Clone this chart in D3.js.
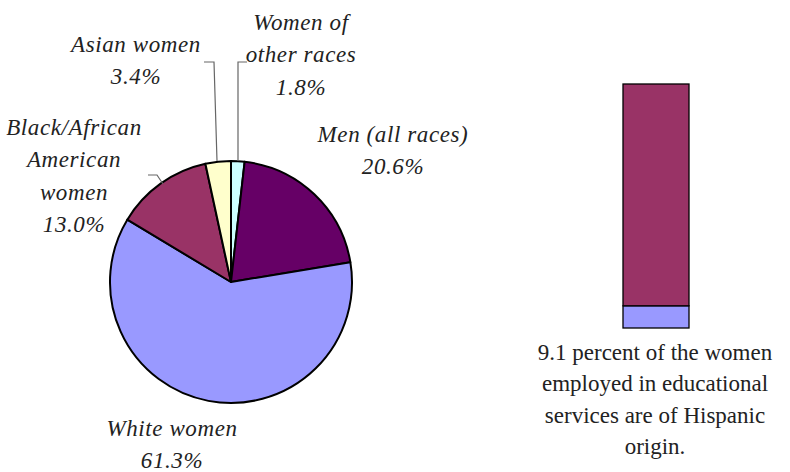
<!DOCTYPE html>
<html><head><meta charset="utf-8">
<script src="https://cdn.jsdelivr.net/npm/d3@7"></script>
</head><body style="margin:0">
<script>
// Data
const categories = ["Women of other races", "Men (all races)", "White women", "Black/African American women", "Asian women"];
const values = [1.8, 20.6, 61.3, 13.0, 3.4];
const colors = ["#CCFFFF", "#660066", "#9999FF", "#993366", "#FFFFCC"];
const labelLines = [["Women of", "other races", "1.8%"], ["Men (all races)", "20.6%"], ["White women", "61.3%"], ["Black/African", "American", "women", "13.0%"], ["Asian women", "3.4%"]];
const barCategories = ["Hispanic", "Not Hispanic"];
const barValues = [9.1, 90.9];
const barColors = ["#9999FF", "#993366"];
const noteLines = ["9.1 percent of the women", "employed in educational", "services are of Hispanic", "origin."];

const W = 790, H = 472;
const FONT = "Liberation Serif";
const svg = d3.select("body").append("svg").attr("width", W).attr("height", H).style("display", "block");

// Pie
const cx = 231, cy = 282, r = 121;
const pie = d3.pie().sort(null).value(d => d).startAngle(0).endAngle(2 * Math.PI);
const arcs = pie(values);
const arc = d3.arc().innerRadius(0).outerRadius(r);
const g = svg.append("g").attr("transform", `translate(${cx},${cy})`);
g.selectAll("path").data(arcs).join("path")
  .attr("d", arc).attr("fill", (d, i) => colors[i])
  .attr("stroke", "#000").attr("stroke-width", 2).attr("stroke-linejoin", "round");

function addText(s, x, y, italic, size, spacing) {
  svg.append("text").attr("x", x).attr("y", y).attr("text-anchor", "middle")
    .attr("font-family", FONT).attr("font-style", italic ? "italic" : "normal")
    .attr("font-size", size).attr("letter-spacing", spacing).attr("fill", "#222")
    .style("font-family", `"${FONT}"`).style("font-style", italic ? "italic" : "normal")
    .style("font-size", size + "px").style("letter-spacing", spacing + "px")
    .text(s);
}

// Labels
const labelPos = [[301, 30], [393, 142], [172, 436], [74, 135], [136, 52]];
const lh = 32.3;
labelLines.forEach((lines, i) => {
  lines.forEach((s, j) => addText(s, labelPos[i][0], labelPos[i][1] + j * lh, true, 23, 0.6));
});

// Leader lines
const leaders = [
  [[247, 62], [238, 62], [238, 161]],
  [[204, 62], [214, 62], [217, 161]],
  [[148, 175], [157, 175], [163, 184]]
];
const line = d3.line();
leaders.forEach(p => svg.append("path").attr("d", line(p)).attr("fill", "none").attr("stroke", "#666").attr("stroke-width", 1.2));

// Stacked bar
const y = d3.scaleLinear().domain([0, 100]).range([328, 84]);
const x = d3.scaleBand().domain(["Women"]).range([623, 689]).padding(0);
let acc = 0;
const stacked = barValues.map((v, i) => { const s = { y0: acc, y1: acc + v, c: barColors[i] }; acc += v; return s; });
svg.selectAll("rect.bar").data(stacked).join("rect").attr("class", "bar")
  .attr("x", x("Women")).attr("width", x.bandwidth())
  .attr("y", d => y(d.y1)).attr("height", d => y(d.y0) - y(d.y1))
  .attr("fill", d => d.c).attr("stroke", "#000").attr("stroke-width", 1.3);

// Note
noteLines.forEach((s, j) => addText(s, 655, 360 + j * 31.3, false, 23, 0));
</script>
</body></html>
